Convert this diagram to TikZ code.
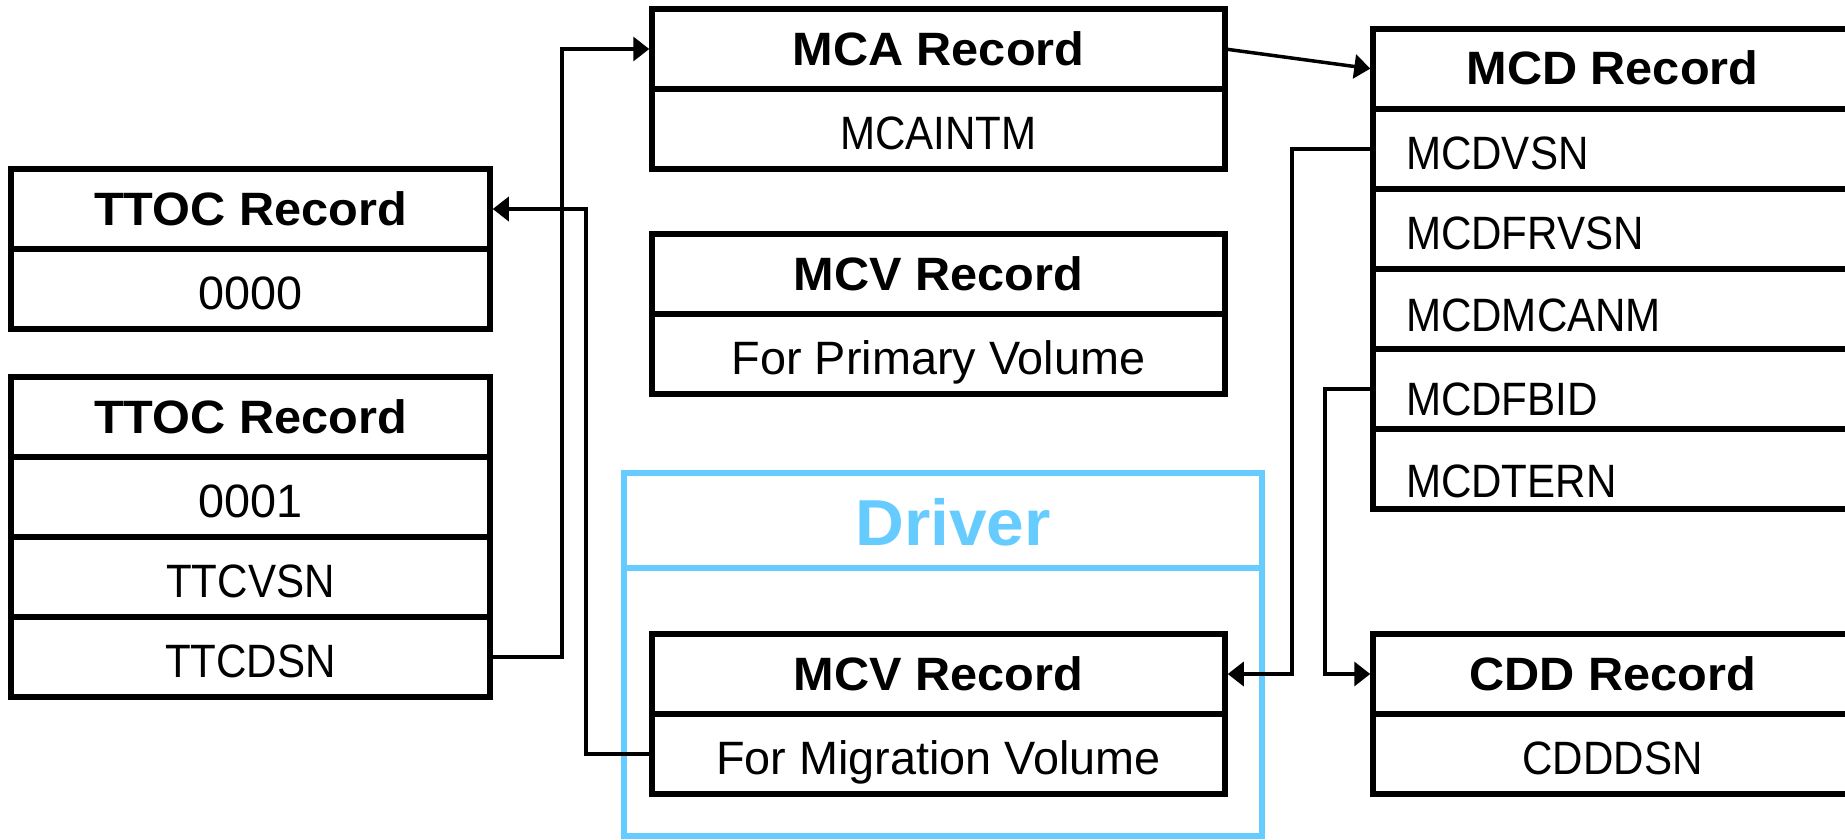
\documentclass[tikz,border=0pt]{standalone}
\usepackage{fontspec}
\setmainfont{Liberation Sans}
\newfontfamily\cellfont{Liberation Sans}[FakeStretch=0.9]
\newfontfamily\headfont{Liberation Sans}[FakeStretch=1.04]
\usetikzlibrary{arrows.meta}
\definecolor{drv}{HTML}{66CCFF}

\begin{document}
\begin{tikzpicture}[x=1pt,y=-1pt,shorten >=2.75pt,>={Triangle[length=16pt,width=24pt]},
    cell/.style={draw,line width=5.5pt,minimum width=573pt,minimum height=80pt,inner sep=0pt,outer sep=0pt,
        text height=40pt,text depth=0pt,font=\cellfont\fontsize{46.8}{56}\selectfont},
    wide/.style={font=\rmfamily\fontsize{46.8}{56}\selectfont},
    head/.style={cell,text height=33.5pt,font=\headfont\bfseries\fontsize{46.8}{56}\selectfont},
    link/.style={->,line width=3.5pt}]
\useasboundingbox (0,0) rectangle (1845,839);

% driver frame
\node[draw=drv,line width=5.5pt,minimum width=638pt,minimum height=95pt,inner sep=0pt] (drv-h) at (943,520.5) {};
\node[draw=drv,line width=5.5pt,minimum width=638pt,minimum height=268pt,inner sep=0pt] (drv-b) at (943,702) {};
\node[inner sep=0pt,text height=46.5pt,text depth=0pt,text=drv,font=\headfont\bfseries\fontsize{65}{78}\selectfont]
    (drv-t) at (953,522) {Driver};

% TTOC records
\node[head,minimum width=479pt] (ttoc0-h) at (250.5,209) {TTOC Record};
\node[cell,wide,minimum width=479pt] (ttoc0-1) at (250.5,289) {0000};
\node[head,minimum width=479pt] (ttoc1-h) at (250.5,417) {TTOC Record};
\node[cell,wide,minimum width=479pt] (ttoc1-1) at (250.5,497) {0001};
\foreach \t [count=\i from 2] in {TTCVSN,TTCDSN}
    \node[cell,minimum width=479pt] (ttoc1-\i) at (250.5,417+\i*80) {\t};

% MCA and MCV records
\node[head] (mca-h) at (938.5,49) {MCA Record};
\node[cell] (mca-1) at (938.5,129) {MCAINTM};
\node[head] (mcvp-h) at (938.5,274) {MCV Record};
\node[cell,wide] (mcvp-1) at (938.5,354) {For Primary Volume};
\node[head] (mcvm-h) at (938.5,674) {MCV Record};
\node[cell,wide] (mcvm-1) at (938.5,754) {For Migration Volume};

% MCD and CDD records
\node[head,minimum width=479pt,text height=31pt] (mcd-h) at (1612.5,69) {MCD Record};
\foreach \t/\d [count=\i] in {MCDVSN/4,MCDFRVSN/4,MCDMCANM/6,MCDFBID/9.5,MCDTERN/12}
    \node[cell,minimum width=479pt,text width=413pt,align=left,text height=33.5pt+2*\d pt] (mcd-\i) at (1612.5,69+\i*80) {\t};
\node[head,minimum width=479pt] (cdd-h) at (1612.5,674) {CDD Record};
\node[cell,minimum width=479pt] (cdd-1) at (1612.5,754) {CDDDSN};

% links
\draw[link] (ttoc1-3.east) -- ++(72,0) |- (mca-h.west);
\draw[link] (mcvm-1.west) -- ++(-66,0) |- (ttoc0-h.east);
\draw[link] (mca-h.east) -- (mcd-h.west);
\draw[link] (mcd-1.west) -- ++(-81,0) |- (mcvm-h.east);
\draw[link] (mcd-4.west) -- ++(-48,0) |- (cdd-h.west);
\end{tikzpicture}
\end{document}
